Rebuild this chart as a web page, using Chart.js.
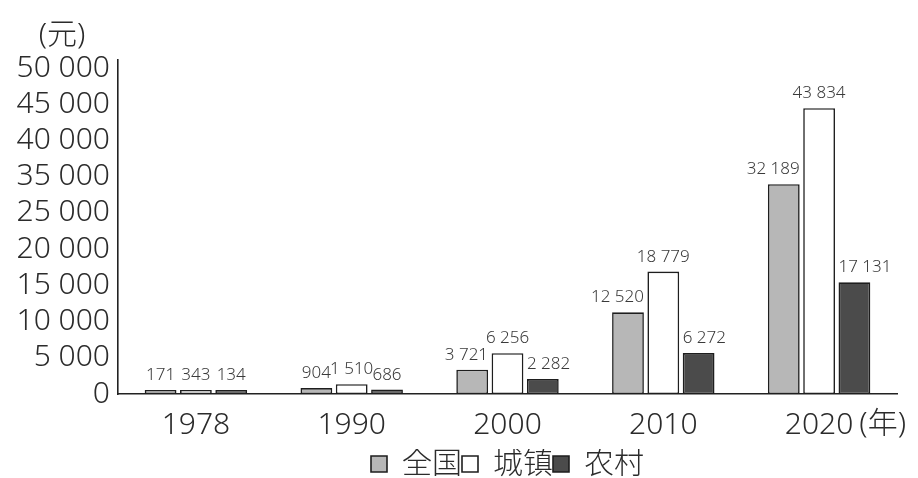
<!DOCTYPE html>
<html>
<head>
<meta charset="utf-8">
<script src="https://cdn.jsdelivr.net/npm/chart.js@4.4.1/dist/chart.umd.min.js"></script>
<style>
  html, body { margin: 0; padding: 0; background: #fff; }
  #wrap { width: 918px; height: 478px; }
</style>
</head>
<body>
<div id="wrap"><canvas id="incomeChart"></canvas></div>
<script>
// 居民人均可支配收入（元）
const years = ['1978', '1990', '2000', '2010', '2020'];
const national = [171, 904, 3721, 12520, 32189];
const urban = [343, 1510, 6256, 18779, 43834];
const rural = [134, 686, 2282, 6272, 17131];
// the printed axis skips 30 000, labels are evenly spaced
const yTickLabels = ['0', '5 000', '10 000', '15 000', '20 000', '25 000', '35 000', '40 000', '45 000', '50 000'];

const FONT = "'Noto Sans', 'Noto Sans CJK SC', sans-serif";
const INK = '#2b2b2b';

function fmt(n) {
    return String(n).replace(/\B(?=(\d{3})+(?!\d))/g, ' ');
}

// value labels above bars, plus the (元) / (年) unit marks
const labelPlugin = {
    id: 'barLabels',
    afterDatasetsDraw(chart) {
        const ctx = chart.ctx;
        ctx.save();
        ctx.font = '300 17px ' + FONT;
        ctx.fillStyle = '#3a3a3a';
        ctx.textBaseline = 'alphabetic';
        ctx.textAlign = 'center';
        chart.data.datasets.forEach((ds, di) => {
            const meta = chart.getDatasetMeta(di);
            meta.data.forEach((bar, i) => {
                const txt = fmt(ds.data[i]);
                const w = ctx.measureText(txt).width;
                const half = bar.width / 2;
                let x = bar.x;
                if (di === 0) x = Math.min(bar.x, bar.x + half - w / 2);
                if (di === 2) x = Math.max(bar.x, bar.x - half + w / 2);
                ctx.fillText(txt, x, bar.y - 10);
            });
        });

        ctx.font = '300 30px ' + FONT;
        ctx.fillStyle = INK;
        ctx.textBaseline = 'middle';
        const ys = chart.scales.y;
        ctx.textAlign = 'center';
        ctx.fillText('(元)', ys.left + ys.width / 2 + 3, chart.chartArea.top - 25);

        const xs = chart.scales.x;
        const last = years.length - 1;
        ctx.textAlign = 'left';
        const lw = ctx.measureText(years[last]).width;
        ctx.fillText('(年)', xs.getPixelForTick(last) + lw / 2 + 6, xs.top + 30);
        ctx.restore();
    }
};

const barStyle = {
    borderColor: '#1e1e1e',
    borderWidth: 1.6,
    borderSkipped: false,
    minBarLength: 4,
    barPercentage: 0.9,
    categoryPercentage: 0.68
};

const config = {
    type: 'bar',
    data: {
        labels: years,
        datasets: [
            Object.assign({ label: '全国', data: national, backgroundColor: '#b7b7b7' }, barStyle),
            Object.assign({ label: '城镇', data: urban, backgroundColor: '#ffffff' }, barStyle),
            Object.assign({ label: '农村', data: rural, backgroundColor: '#4b4b4b' }, barStyle)
        ]
    },
    options: {
        responsive: true,
        maintainAspectRatio: false,
        animation: false,
        layout: {
            padding: { top: 60, right: 21, left: 0, bottom: -11 }
        },
        plugins: {
            tooltip: { enabled: false },
            legend: {
                position: 'bottom',
                fullSize: false,
                labels: {
                    color: INK,
                    font: { family: FONT, size: 30, weight: 300, lineHeight: 0.8 },
                    boxWidth: 16,
                    boxHeight: 16,
                    padding: 0
                }
            }
        },
        scales: {
            x: {
                grid: { display: false, drawTicks: false },
                border: { display: true, color: '#222', width: 1.6 },
                afterFit(scale) {
                    scale.height = 55;
                },
                ticks: {
                    color: INK,
                    font: { family: FONT, size: 30, weight: 300, lineHeight: 0.34 },
                    padding: 26
                }
            },
            y: {
                min: 0,
                max: 51230,
                grid: { display: false, drawTicks: false },
                border: { display: true, color: '#222', width: 1.6 },
                afterBuildTicks(scale) {
                    scale.ticks = yTickLabels.map((t, i) => ({ value: i * 50000 / (yTickLabels.length - 1) }));
                },
                afterFit(scale) {
                    scale.width = 118;
                },
                ticks: {
                    autoSkip: false,
                    color: INK,
                    font: { family: FONT, size: 30, weight: 300 },
                    padding: 8,
                    callback: (v, i) => yTickLabels[i]
                }
            }
        }
    },
    plugins: [labelPlugin]
};

var IncomeChart = new Chart(
    document.getElementById('incomeChart'),
    config
);
</script>
</body>
</html>
